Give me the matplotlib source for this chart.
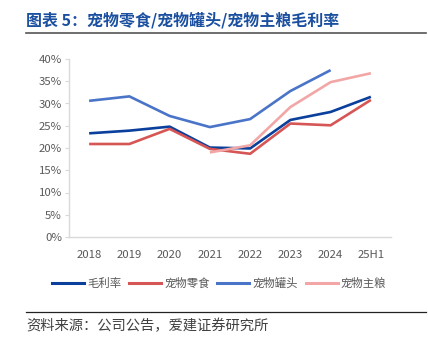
import numpy as np
import matplotlib
matplotlib.use('Agg')
import matplotlib.pyplot as plt
from matplotlib.lines import Line2D

plt.rcParams['font.family'] = ['Noto Sans CJK SC', 'DejaVu Sans']

# gross margin by year (%), NaN where a segment has no figure
years = ['2018', '2019', '2020', '2021', '2022', '2023', '2024', '25H1']
gross_margin = [23.3, 23.9, 24.8, 20.1, 19.9, 26.3, 28.1, 31.5]
snacks = [20.9, 20.9, 24.3, 19.8, 18.7, 25.5, 25.1, 30.8]
canned = [30.6, 31.6, 27.2, 24.7, 26.5, 32.8, 37.5, np.nan]
staple = [np.nan, np.nan, np.nan, 19.0, 20.6, 29.2, 34.8, 36.8]

series = [
    ('毛利率', gross_margin, '#0a3f9c'),
    ('宠物零食', snacks, '#d65555'),
    ('宠物罐头', canned, '#4a74c8'),
    ('宠物主粮', staple, '#f2a6a6'),
]

fig = plt.figure(figsize=(4.28, 3.42), dpi=100)
ax = fig.add_axes([69 / 428, 1 - 237 / 342, 322 / 428, 178 / 342])

x = np.arange(len(years))
for name, vals, color in series:
    ax.plot(x, np.array(vals) / 100, color=color, lw=1.9, label=name,
            solid_capstyle='butt')

ax.set_xlim(-0.5, len(years) - 0.5)
ax.set_ylim(0, 0.40)
ax.set_yticks(np.arange(0, 0.41, 0.05))
ax.set_yticklabels([f'{int(round(v * 100))}%' for v in np.arange(0, 0.41, 0.05)])
ax.set_xticks(x)
ax.set_xticklabels(years)

for side in ['top', 'right']:
    ax.spines[side].set_visible(False)
for side in ['left', 'bottom']:
    ax.spines[side].set_color('#d9d9d9')
    ax.spines[side].set_linewidth(1.0)
ax.tick_params(axis='y', length=3, color='#d9d9d9', labelsize=8.2,
               labelcolor='#595959', pad=2)
ax.tick_params(axis='x', length=0, labelsize=8.2, labelcolor='#595959', pad=9)

handles = [Line2D([0], [0], color=c, lw=2.2) for _, _, c in series]
fig.legend(handles, [s[0] for s in series], loc='center', ncol=4,
           bbox_to_anchor=(0.512, 1 - 283 / 342), frameon=False,
           fontsize=8.2, labelcolor='#595959', handlelength=2.8,
           handletextpad=0.25, columnspacing=0.7)

# header and source footer
fig.text(26 / 428, 1 - 20 / 342, '图表 5：宠物零食/宠物罐头/宠物主粮毛利率',
         fontsize=11.5, fontweight='bold', color='#1b4f9f', va='center')
fig.add_artist(Line2D([26 / 428, 426 / 428], [1 - 33 / 342, 1 - 33 / 342],
                      color='#555555', lw=1.2))
fig.add_artist(Line2D([26 / 428, 426 / 428], [1 - 312 / 342, 1 - 312 / 342],
                      color='#222222', lw=0.9))
fig.text(26 / 428, 1 - 326 / 342, '资料来源：公司公告，爱建证券研究所',
         fontsize=10.3, color='#404040', va='center')

fig.savefig('out.png', dpi=100)
